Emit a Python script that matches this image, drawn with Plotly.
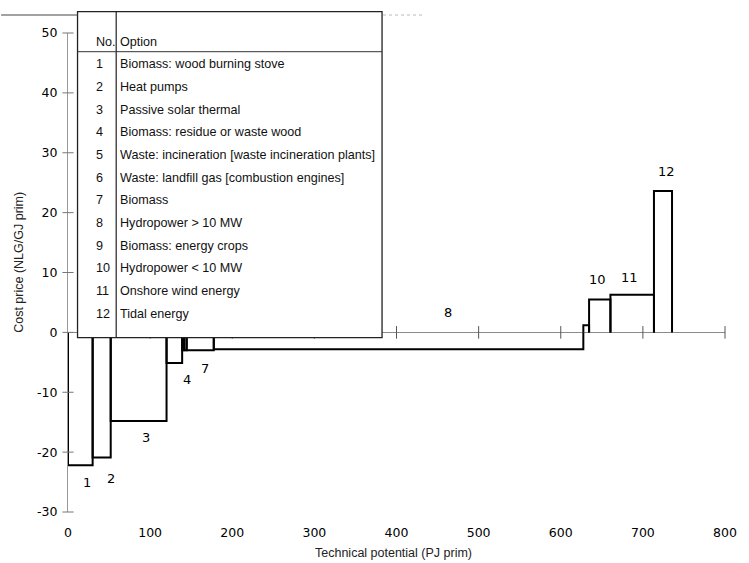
import plotly.graph_objects as go

# ---- data -------------------------------------------------------------
option_no = [1, 2, 3, 4, 5, 6, 7, 8, 9, 10, 11, 12]
option_names = [
    "Biomass: wood burning stove",
    "Heat pumps",
    "Passive solar thermal",
    "Biomass: residue or waste wood",
    "Waste: incineration [waste incineration plants]",
    "Waste: landfill gas [combustion engines]",
    "Biomass",
    "Hydropower > 10 MW",
    "Biomass: energy crops",
    "Hydropower < 10 MW",
    "Onshore wind energy",
    "Tidal energy",
]
# technical potential of each option (PJ prim) = bar width
potential = [30, 22, 68, 19, 2.5, 3, 33, 450, 7, 26, 53, 22]
# cost price (NLG/GJ prim) = bar height
cost = [-22.2, -20.9, -14.8, -5.1, -3.0, -3.0, -3.0, -2.8, 1.2, 5.5, 6.3, 23.6]

x_ticks = [0, 100, 200, 300, 400, 500, 600, 700, 800]
y_ticks = [-30, -20, -10, 0, 10, 20, 30, 40, 50]

# ---- geometry of the plotting area (pixels) ---------------------------
W, H = 749, 563
L, R, T, B = 68, 13, 33, 51
PW, PH = W - L - R, H - T - B


def px(xp):
    return (xp - L) / PW


def py(yp):
    return (H - B - yp) / PH


# ---- cost-supply curve outline ----------------------------------------
ox, oy = [], []
right = 0.0
for w, c in zip(potential, cost):
    left, right = right, right + w
    ox += [left, left, right, right, None]
    oy += [0, c, c, 0, None]

fig = go.Figure()

fig.add_trace(go.Scatter(
    x=ox, y=oy, mode="lines",
    line=dict(color="black", width=2),
    hoverinfo="skip", showlegend=False,
))

# crossing tick marks on the y axis and on the zero line
fig.add_trace(go.Scatter(
    x=[0] * len(y_ticks), y=y_ticks, mode="markers",
    marker=dict(symbol="line-ew", size=8, line=dict(color="#777", width=1)),
    cliponaxis=False, hoverinfo="skip", showlegend=False,
))
fig.add_trace(go.Scatter(
    x=x_ticks[1:], y=[0] * (len(x_ticks) - 1), mode="markers",
    marker=dict(symbol="line-ns", size=9, line=dict(color="#555", width=1)),
    cliponaxis=False, hoverinfo="skip", showlegend=False,
))

# option numbers next to the bars
label_anchor = {
    1: (23.6, -25.0), 2: (52.8, -24.4), 3: (95.5, -17.5), 4: (144.3, -7.8),
    7: (167.0, -6.0), 8: (462.8, 3.3), 10: (644.7, 8.8), 11: (683.8, 9.2),
    12: (729.0, 26.9),
}
for n in option_no:
    if n in label_anchor:
        lx, ly = label_anchor[n]
        fig.add_annotation(
            x=lx, y=ly, text=str(n), showarrow=False,
            font=dict(family="DejaVu Sans", size=13, color="black"),
        )

# ---- table of options -------------------------------------------------
box_l, box_r, box_t, box_b = 77.7, 387.3, 11.7, 337.7
div_x, head_y = 117, 51.7
shapes = [
    dict(type="rect", xref="paper", yref="paper",
         x0=px(box_l), x1=px(box_r), y0=py(box_b), y1=py(box_t),
         fillcolor="white", line=dict(color="#222", width=1.3), layer="above"),
    dict(type="line", xref="paper", yref="paper",
         x0=px(div_x), x1=px(div_x), y0=py(box_b), y1=py(box_t),
         line=dict(color="#222", width=1.2), layer="above"),
    dict(type="line", xref="paper", yref="paper",
         x0=px(box_l), x1=px(box_r), y0=py(head_y), y1=py(head_y),
         line=dict(color="#333", width=1), layer="above"),
    # frame edge along the top
    dict(type="line", xref="paper", yref="paper",
         x0=px(0), x1=px(box_l), y0=py(15), y1=py(15),
         line=dict(color="#444", width=1), layer="above"),
    dict(type="line", xref="paper", yref="paper",
         x0=px(box_r + 1), x1=px(430), y0=py(15), y1=py(15),
         line=dict(color="#bbb", width=1, dash="dot"), layer="above"),
]

tfont = dict(family="Liberation Sans, Arial, sans-serif", size=12.6, color="#111")
no_x, opt_x = 94, 119
fig.add_annotation(xref="paper", yref="paper", x=px(no_x), y=py(42.3),
                   xanchor="left", yanchor="middle", text="No.", showarrow=False, font=tfont)
fig.add_annotation(xref="paper", yref="paper", x=px(opt_x), y=py(42.3),
                   xanchor="left", yanchor="middle", text="Option", showarrow=False, font=tfont)
row0, row_step = 64.2, 22.68
for i, (n, name) in enumerate(zip(option_no, option_names)):
    yy = py(row0 + i * row_step)
    fig.add_annotation(xref="paper", yref="paper", x=px(no_x), y=yy,
                       xanchor="left", yanchor="middle", text=str(n),
                       showarrow=False, font=tfont)
    fig.add_annotation(xref="paper", yref="paper", x=px(opt_x), y=yy,
                       xanchor="left", yanchor="middle", text=name,
                       showarrow=False, font=tfont)

# ---- axis titles ------------------------------------------------------
fig.add_annotation(xref="paper", yref="paper", x=px(399), y=py(553),
                   text="Technical potential (PJ prim)", showarrow=False,
                   xanchor="center", yanchor="middle",
                   font=dict(family="Liberation Sans, Arial, sans-serif",
                             size=12.5, color="#222"))
fig.add_annotation(xref="paper", yref="paper", x=px(18), y=py(262),
                   text="Cost price (NLG/GJ prim)", showarrow=False, textangle=-90,
                   xanchor="center", yanchor="middle",
                   font=dict(family="Liberation Sans, Arial, sans-serif",
                             size=12.5, color="#222"))

tick_font = dict(family="DejaVu Sans", size=12.5, color="black")
fig.update_layout(
    width=W, height=H,
    margin=dict(l=L, r=R, t=T, b=B, pad=0),
    paper_bgcolor="white", plot_bgcolor="white",
    showlegend=False,
    shapes=shapes,
    xaxis=dict(
        range=[0, 800], tickvals=x_ticks, ticktext=[str(v) for v in x_ticks],
        showgrid=False, zeroline=False, showline=False,
        ticks="outside", ticklen=9, tickcolor="rgba(0,0,0,0)",
        tickfont=tick_font, fixedrange=True,
    ),
    yaxis=dict(
        range=[-30, 50], tickvals=y_ticks,
        ticktext=[str(v) for v in y_ticks],
        showgrid=False, zeroline=True, zerolinecolor="#8a8a8a", zerolinewidth=1,
        showline=True, linecolor="#999", linewidth=1,
        ticks="outside", ticklen=7, tickcolor="rgba(0,0,0,0)",
        tickfont=tick_font, layer="below traces", fixedrange=True,
    ),
)

fig.write_html("out.html")
